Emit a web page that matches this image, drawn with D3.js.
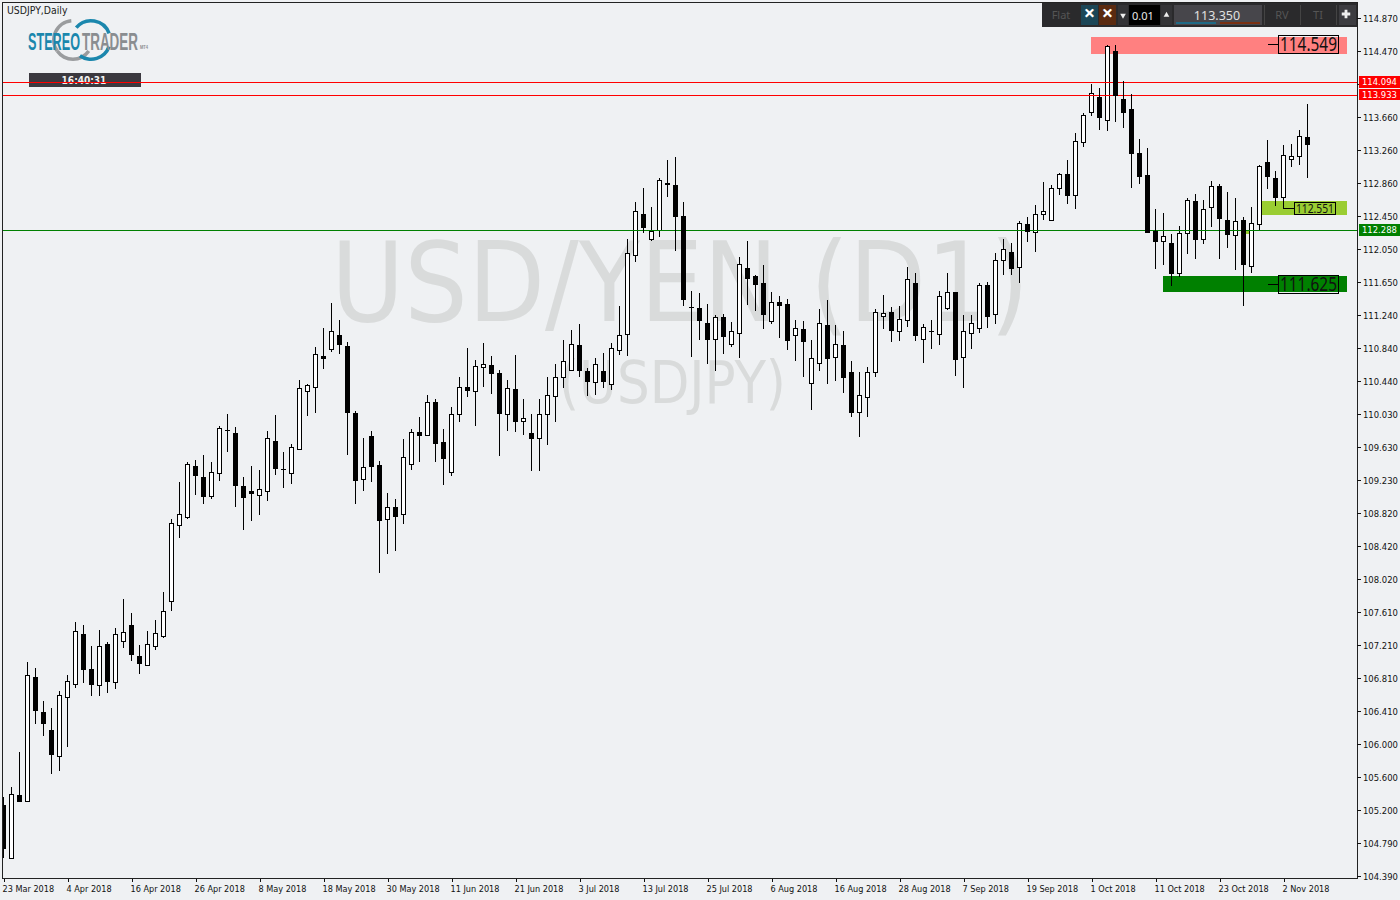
<!DOCTYPE html>
<html><head><meta charset="utf-8">
<script src="https://cdnjs.cloudflare.com/ajax/libs/d3/7.8.5/d3.min.js"></script>
<style>
html,body{margin:0;padding:0;background:#eff1f3;overflow:hidden}
svg{display:block}
text{font-family:"DejaVu Sans Condensed","DejaVu Sans",sans-serif;font-stretch:condensed}
</style></head><body><svg id="c" width="1400" height="900"></svg>
<script>
const opens=[105.26,104.61,105.38,105.31,106.82,106.39,106.17,105.86,106.58,106.74,
107.35,106.92,106.72,107.22,106.76,107.26,107.46,107.08,106.97,107.20,
107.32,107.75,108.68,108.77,109.40,109.26,109.03,109.31,109.84,109.80,
109.15,109.09,109.04,109.09,109.70,109.36,109.31,109.61,110.31,110.36,
110.74,110.83,111.00,110.86,110.05,109.24,109.76,109.41,108.75,108.90,
108.81,109.42,109.81,109.78,110.18,109.69,109.33,110.03,110.36,110.31,
110.61,110.63,110.53,110.03,110.34,109.95,109.80,109.74,110.03,110.25,
110.48,110.57,110.88,110.56,110.42,110.56,110.40,110.82,111.01,111.98,
112.48,112.17,112.28,112.85,112.83,112.45,111.34,111.33,111.14,110.95,
111.22,110.89,111.02,111.82,111.72,111.63,111.17,111.40,111.38,111.00,
111.07,110.41,110.66,111.12,110.73,110.88,110.55,110.06,110.24,110.55,
111.23,111.28,111.05,111.18,111.63,110.95,111.05,111.01,111.33,111.52,
110.73,111.02,111.08,111.61,111.25,111.91,112.01,111.83,112.35,112.26,
112.48,112.40,112.79,112.97,112.71,113.36,113.72,113.91,113.62,114.47,
113.88,113.76,113.22,112.95,112.27,112.15,112.12,111.75,112.24,112.64,
112.17,112.56,112.82,112.40,112.22,112.40,111.84,112.35,113.11,112.92,
112.68,113.15,113.18,113.42];
const highs=[105.36,105.48,105.91,107.00,106.93,106.53,106.44,106.65,106.85,107.49,
107.46,107.20,107.40,107.25,107.42,107.77,107.60,107.21,107.38,107.52,
107.86,108.75,109.20,109.45,109.47,109.53,109.45,109.89,110.03,109.87,
109.26,109.40,109.35,109.83,110.02,109.57,109.67,110.45,110.40,110.85,
111.08,111.39,111.18,110.91,110.07,109.74,109.83,109.46,109.07,108.99,
109.73,109.85,110.00,110.27,110.22,109.85,110.12,110.48,110.84,110.69,
110.90,110.74,110.57,110.45,110.75,110.22,110.03,110.22,110.48,110.64,
110.94,111.06,111.13,110.60,110.72,110.78,110.90,111.35,112.17,112.62,
112.79,112.56,112.92,113.14,113.17,112.62,111.54,111.51,111.38,111.24,
111.25,111.16,111.95,112.15,111.73,111.85,111.52,111.48,111.44,111.18,
111.17,110.94,111.32,111.43,111.12,111.05,110.68,110.55,110.61,111.32,
111.49,111.34,111.35,111.83,111.76,111.13,111.18,111.54,111.76,111.52,
111.24,111.24,111.63,111.65,112.00,112.17,112.12,112.39,112.44,112.59,
112.87,112.83,112.98,113.14,113.47,113.71,114.06,114.02,114.54,114.54,
114.10,113.94,113.39,113.28,112.54,112.49,112.23,112.33,112.67,112.72,
112.65,112.88,112.84,112.74,112.67,112.44,112.56,113.08,113.38,113.00,
113.32,113.33,113.50,113.82];
const lows=[104.62,104.61,105.31,105.31,106.26,106.11,105.65,105.69,105.98,106.70,
106.76,106.60,106.60,106.64,106.69,107.19,107.03,106.87,106.97,107.16,
107.31,107.64,108.53,108.76,109.06,108.95,109.01,109.23,109.58,108.91,
108.63,108.74,108.81,108.98,109.30,109.14,109.19,109.61,110.02,110.06,
110.60,110.80,110.78,109.54,108.95,109.11,109.21,108.10,108.34,108.37,
108.70,109.36,109.46,109.78,109.46,109.18,109.29,109.95,110.25,109.90,
110.37,110.29,109.53,109.84,109.83,109.79,109.35,109.35,109.67,109.95,
110.36,110.57,110.50,110.27,110.28,110.36,110.34,110.77,110.75,111.90,
112.26,112.16,112.21,112.70,112.04,111.36,110.74,110.95,110.66,110.57,
110.78,110.86,110.73,111.38,111.30,111.08,111.14,110.97,110.83,110.69,
110.50,110.09,110.57,110.41,110.45,110.30,110.01,109.76,110.01,110.50,
111.08,110.92,110.94,111.11,110.94,110.67,110.84,110.89,111.32,110.51,
110.36,110.84,111.03,111.10,111.14,111.74,111.74,111.65,112.15,112.02,
112.42,112.40,112.72,112.61,112.55,113.31,113.69,113.51,113.50,113.61,
113.54,112.81,112.85,112.26,111.82,111.87,111.61,111.72,112.00,111.94,
112.12,112.33,111.94,112.07,111.80,111.36,111.77,112.29,112.79,112.59,
112.66,113.06,113.09,112.93];
const closes=[104.73,105.39,105.31,106.85,106.42,106.26,105.88,106.60,106.77,107.38,
106.92,106.74,107.20,106.77,107.35,107.37,107.10,106.99,107.22,107.36,
107.63,108.70,108.81,109.42,109.29,109.03,109.33,109.86,109.84,109.17,
109.02,109.07,109.12,109.74,109.37,109.36,109.63,110.35,110.39,110.77,
110.72,111.05,110.89,110.06,109.23,109.39,109.40,108.74,108.90,108.79,
109.51,109.81,109.78,110.18,109.68,109.50,110.03,110.36,110.33,110.62,
110.64,110.53,110.05,110.35,109.95,109.98,109.74,110.03,110.27,110.48,
110.68,110.89,110.57,110.44,110.64,110.44,110.84,111.00,112.00,112.51,
112.32,112.27,112.89,112.84,112.45,111.44,111.34,111.18,110.95,111.22,
110.99,111.05,111.87,111.69,111.62,111.25,111.40,111.36,110.94,111.08,
110.92,110.72,111.14,110.72,110.89,110.48,110.06,110.27,110.55,111.28,
111.27,111.06,111.19,111.68,111.00,111.10,111.05,111.48,111.52,110.70,
111.05,111.14,111.61,111.23,111.91,112.05,111.82,112.37,112.27,112.48,
112.51,112.79,112.97,112.71,113.37,113.69,113.95,113.66,114.53,113.93,
113.72,113.22,112.94,112.26,112.15,112.21,111.75,112.24,112.65,112.17,
112.54,112.82,112.43,112.23,112.39,111.87,112.37,113.06,112.94,112.68,
113.20,113.18,113.43,113.33];
const priceTicks=[114.87,114.47,114.07,113.66,113.26,112.86,112.45,112.05,111.65,111.24,110.84,110.44,110.03,109.63,109.23,108.82,108.42,108.02,107.61,107.21,106.81,106.41,106.00,105.60,105.20,104.79,104.39];
const dateLabels=["23 Mar 2018","4 Apr 2018","16 Apr 2018","26 Apr 2018","8 May 2018","18 May 2018","30 May 2018","11 Jun 2018","21 Jun 2018","3 Jul 2018","13 Jul 2018","25 Jul 2018","6 Aug 2018","16 Aug 2018","28 Aug 2018","7 Sep 2018","19 Sep 2018","1 Oct 2018","11 Oct 2018","23 Oct 2018","2 Nov 2018"];
const hLevels=[114.094,113.933,112.288];
const hLevelColors=["#ff0000","#ff0000","#008000"];
const zonePrices=[[114.64,114.43],[112.635,112.465],[111.72,111.52],[112.27,112.235]];
const zoneBars=[[136,168],[157.35,168],[145,168],[155.4,155.8]];
const zoneColors=["#ff8080","#9acd32","#008000","#9acd32"];
const markerValues=["114.549","112.551","111.625"];

const svg=d3.select("#c");
const x=d3.scaleLinear().domain([0,163]).range([3,1307]);
const y=d3.scaleLinear().domain([114.87,104.39]).range([18,876]);
const Y=p=>Math.round(y(p));
const L=p=>Math.ceil(y(p));
const bars=d3.range(opens.length);
svg.append("defs").append("clipPath").attr("id","plot").append("rect").attr("x",3).attr("y",3).attr("width",1354).attr("height",876);

// watermarks
const wm=svg.append("g").attr("fill","#d9dbdb").style("font-family","'Open Sans','Noto Sans',sans-serif").style("font-stretch","normal").style("font-weight",400);
wm.append("text").attr("x",331).attr("y",321).attr("font-size",110).attr("textLength",698).attr("lengthAdjust","spacingAndGlyphs").text("USD/YEN (D1)");
wm.append("text").attr("x",559).attr("y",403).attr("font-size",58).attr("textLength",227).attr("lengthAdjust","spacingAndGlyphs").text("(USDJPY)");

const plot=svg.append("g").attr("clip-path","url(#plot)").attr("shape-rendering","crispEdges");
// zones
plot.append("g").selectAll("rect").data(zonePrices).join("rect")
 .attr("x",(d,i)=>Math.round(x(zoneBars[i][0]))).attr("width",(d,i)=>Math.round(x(zoneBars[i][1]))-Math.round(x(zoneBars[i][0])))
 .attr("y",d=>Y(d[0])).attr("height",d=>Y(d[1])-Y(d[0])).attr("fill",(d,i)=>zoneColors[i]);

function drawCandles(g,idx){
 g.selectAll("rect.w").data(idx).join("rect").attr("class","w").attr("x",i=>x(i)).attr("width",1)
  .attr("y",i=>Y(highs[i])).attr("height",i=>Y(lows[i])-Y(highs[i])+1).attr("fill","#000");
 g.selectAll("rect.b").data(idx).join("rect").attr("class","b").attr("x",i=>x(i)-2).attr("width",5)
  .attr("y",i=>Y(Math.max(opens[i],closes[i]))).attr("height",i=>Y(Math.min(opens[i],closes[i]))-Y(Math.max(opens[i],closes[i]))+1).attr("fill","#000");
 g.selectAll("rect.f").data(idx.filter(i=>closes[i]>opens[i]&&Y(opens[i])-Y(closes[i])>=2)).join("rect").attr("class","f").attr("x",i=>x(i)-1).attr("width",3)
  .attr("y",i=>Y(closes[i])+1).attr("height",i=>Y(opens[i])-Y(closes[i])-1).attr("fill","#fff");
}
drawCandles(plot.append("g"),bars.filter(i=>closes[i]>opens[i]));
// horizontal levels
plot.append("g").selectAll("rect").data(hLevels).join("rect").attr("x",3).attr("width",1354)
 .attr("y",d=>L(d)).attr("height",1).attr("fill",(d,i)=>hLevelColors[i]);
drawCandles(plot.append("g"),bars.filter(i=>closes[i]<=opens[i]));

// price markers
function marker(val,x0,x1,yTop,yBot,fs,path){
 const g=svg.append("g");
 g.append("path").attr("d",path).attr("fill","none").attr("stroke","#000").attr("shape-rendering","crispEdges");
 g.append("rect").attr("x",x0+.5).attr("y",yTop+.5).attr("width",x1-x0-1).attr("height",yBot-yTop-1).attr("fill","none").attr("stroke","#000").attr("shape-rendering","crispEdges");
 g.append("text").attr("x",(x0+x1)/2).attr("y",yBot-(yBot-yTop-fs*.72)/2).attr("text-anchor","middle").attr("font-size",fs).attr("fill","#111")
  .style("font-family","'Noto Sans',sans-serif").style("font-stretch","normal").attr("textLength",x1-x0-4).attr("lengthAdjust","spacingAndGlyphs").text(val);
}
marker(markerValues[0],1278,1339,35,54,19,"M1268,44.5H1278");
marker(markerValues[1],1294,1336,202,215,12,"M1283.5,198V208.5H1294");
marker(markerValues[2],1278,1339,275,294,19,"M1268,284.5H1278");

// frame
svg.append("rect").attr("x",2.5).attr("y",2.5).attr("width",1355).attr("height",876).attr("fill","none").attr("stroke","#222").attr("shape-rendering","crispEdges");

// axes
const ay=svg.append("g").attr("transform","translate(1357,0)").attr("shape-rendering","crispEdges").call(d3.axisRight(y).tickValues(priceTicks).tickSize(4).tickPadding(2).tickFormat(d3.format(".3f")));
ay.select(".domain").remove();
ay.selectAll(".tick").attr("transform",d=>`translate(0,${Math.round((y(d)-18)/33)*33+18})`);
ay.selectAll("text").attr("font-size",9.4).attr("fill","#111").attr("font-family",null).attr("dy","0.4em");
ay.selectAll("line").attr("stroke","#111").attr("y1",.5).attr("y2",.5);
const ax=svg.append("g").attr("transform","translate(0,879)").attr("shape-rendering","crispEdges").call(d3.axisBottom(x).tickValues(dateLabels.map((d,i)=>i*8)).tickSize(3).tickFormat((d,i)=>dateLabels[i]));
ax.select(".domain").remove();
ax.selectAll("text").attr("font-size",9.05).attr("fill","#111").attr("text-anchor","start").attr("dx",-1).attr("y",6.5).attr("font-family",null);
ax.selectAll("line").attr("stroke","#111").attr("x1",.5).attr("x2",.5);

// axis tags
const tagY=(d,i)=>i==1?89:L(d)-6;
const tag=svg.append("g").selectAll("g").data(hLevels).join("g");
tag.append("rect").attr("shape-rendering","crispEdges").attr("x",1359).attr("width",41).attr("y",tagY).attr("height",(d,i)=>i==1?11:12).attr("fill",(d,i)=>hLevelColors[i]);
tag.append("text").attr("x",1362).attr("y",(d,i)=>tagY(d,i)+9).attr("font-size",9.4).attr("fill","#fff").text(d=>d.toFixed(3));

// title
svg.append("text").attr("x",7).attr("y",14).attr("font-size",10.4).attr("fill","#222").text("USDJPY,Daily");

// timer
svg.append("rect").attr("x",29).attr("y",73).attr("width",112).attr("height",14).attr("fill","#3b393f").attr("shape-rendering","crispEdges");
svg.append("text").attr("x",84).attr("y",83.5).attr("text-anchor","middle").attr("font-size",10).attr("font-weight","bold").attr("fill","#f2f2f2").text("16:40:31");
svg.append("rect").attr("x",3).attr("y",82).attr("width",180).attr("height",1).attr("fill","#ff0000").attr("shape-rendering","crispEdges");

// logo
const arc=(cx,cy,r,a0,a1,col)=>svg.append("path").attr("transform",`translate(${cx},${cy})`).attr("fill",col)
 .attr("d",d3.arc()({innerRadius:r-3.5,outerRadius:r,startAngle:a0*Math.PI/180,endAngle:a1*Math.PI/180}));
const grey="#9a9c9e",blue="#1b87ad";
arc(73,40,21,-125,-5,grey); arc(73,40,21,125,235,grey);
arc(91,40,21,-50,70,blue); arc(91,40,21,110,215,blue);
const lf="'Liberation Sans Narrow','Liberation Sans',sans-serif";
function fit(x0,yb,fs,w,s,c){
 const t=svg.append("text").attr("font-size",fs).attr("font-weight","bold").attr("fill",c).style("font-family",lf).style("font-stretch","normal").text(s);
 const n=t.node().getComputedTextLength();
 t.attr("transform",`translate(${x0},${yb}) scale(${w/n},1)`);
}
svg.append("g");
fit(28,50,24,52,"STEREO",blue);
fit(82,50,24,56,"TRADER","#8a8d90");
fit(140,49,5.5,8,"MT4","#8a8d90");

// toolbar
const tb=svg.append("g");
const box=(x0,y0,w,h,c)=>tb.append("rect").attr("x",x0).attr("y",y0).attr("width",w).attr("height",h).attr("fill",c).attr("shape-rendering","crispEdges");
const txt=(x0,y0,s,fs,c,fw)=>tb.append("text").attr("x",x0).attr("y",y0).attr("font-size",fs).attr("fill",c).attr("font-weight",fw||"normal").attr("text-anchor","middle").style("font-family","'Noto Sans',sans-serif").style("font-stretch","normal").text(s);
box(1042,3,315,24,"#2a2a2c");
box(1081,5,17,20,"#1b4656"); box(1099,5,17,20,"#5a2a10");
box(1118,5,10,20,"#333336"); box(1129,5,31,20,"#000"); box(1161,5,11,20,"#333336");
box(1174,5,88,20,"#47464b"); box(1176,22,40,2,"#1e6a86"); box(1220,22,40,2,"#7a3012");
box(1264,5,1,20,"#444"); box(1300,5,1,20,"#444"); box(1336,5,1,20,"#444"); box(1339,5,17,20,"#3c3c40");
txt(1061,19,"Flat",11,"#555");
txt(1089.5,20,"×",20,"#fff","bold"); txt(1107.5,20,"×",20,"#fff","bold");
txt(1143,19.5,"0.01",11,"#e8e8e8"); txt(1217,19.5,"113.350",12.5,"#e0e0e0");
txt(1282,19,"RV",11,"#555"); txt(1318,19,"TI",11,"#555");
tb.append("path").attr("transform","translate(1123,15.5) rotate(180)").attr("d",d3.symbol(d3.symbolTriangle,14)()).attr("fill","#eee");
tb.append("path").attr("transform","translate(1166.5,15)").attr("d",d3.symbol(d3.symbolTriangle,14)()).attr("fill","#eee");
tb.append("path").attr("transform","translate(1346,14)").attr("d",d3.symbol(d3.symbolCross,40)()).attr("fill","#eee");
</script></body></html>
